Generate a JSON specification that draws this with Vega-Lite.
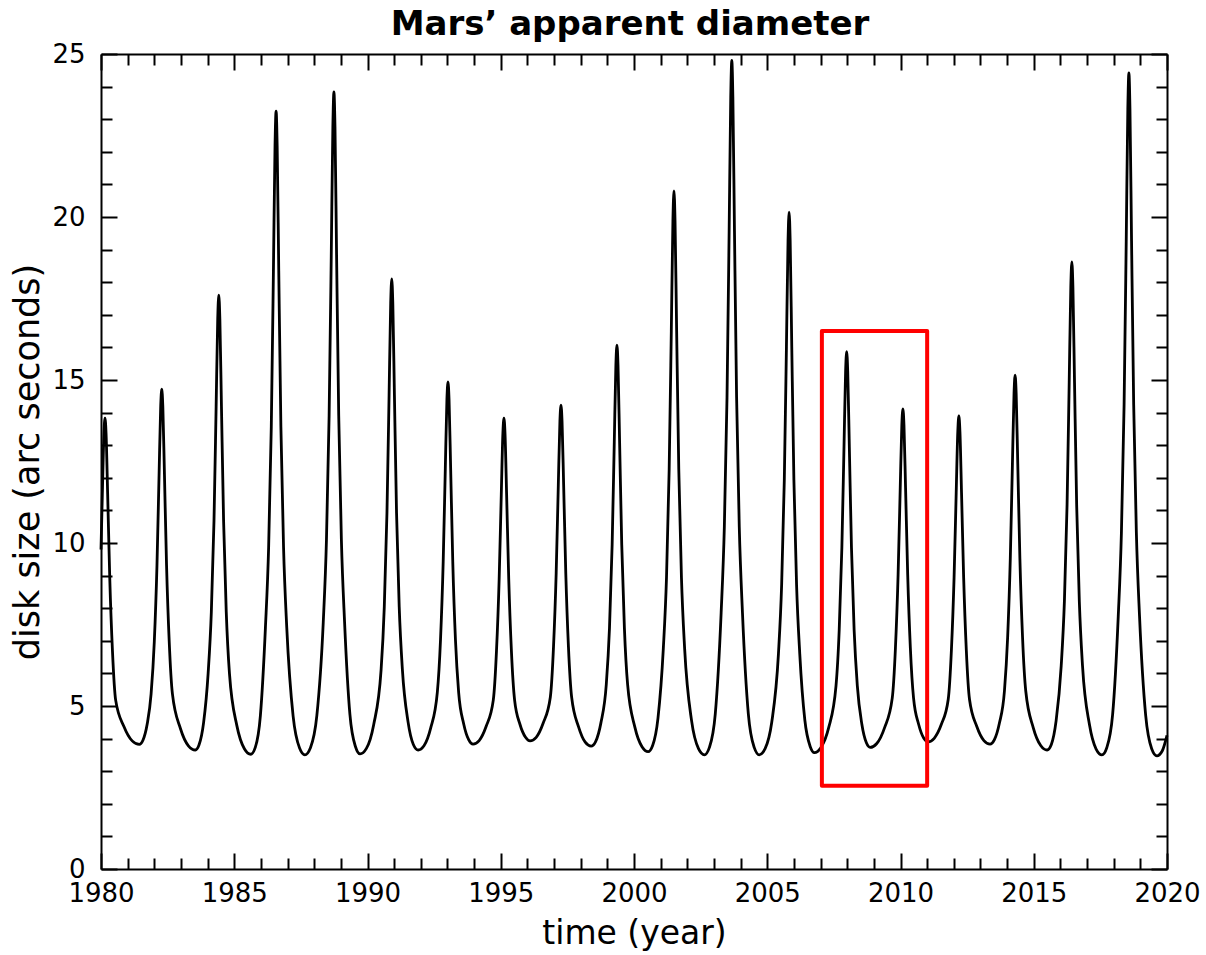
{
  "$schema": "https://vega.github.io/schema/vega-lite/v6.json",
  "width": 1066,
  "height": 815,
  "autosize": "none",
  "padding": {"left": 101, "top": 54, "right": 39, "bottom": 86},
  "background": "white",
  "title": {"text": "Mars’ apparent diameter", "font": "DejaVu Sans", "fontSize": 34, "fontWeight": "bold", "color": "black", "anchor": "middle", "frame": "group", "offset": -1, "dx": -4},
  "config": {
    "view": {"stroke": null},
    "axis": {"domainColor": "black", "domainWidth": 2, "tickColor": "black", "tickWidth": 2, "grid": false, "labelFont": "DejaVu Sans", "labelFontSize": 26, "labelColor": "black", "titleFont": "DejaVu Sans", "titleColor": "black", "titleFontWeight": "normal", "labelFlush": false, "labelOverlap": false}
  },
  "datasets": {
    "mars": [
      {"t":1980.0,"d":9.8},{"t":1980.05,"d":11.49},{"t":1980.11,"d":13.36},{"t":1980.15,"d":13.83},{"t":1980.19,"d":13.36},{"t":1980.25,"d":11.49},{"t":1980.33,"d":8.89},{"t":1980.43,"d":6.69},{"t":1980.55,"d":5.18},
      {"t":1980.86,"d":4.37},{"t":1981.17,"d":3.93},{"t":1981.44,"d":3.82},{"t":1981.57,"d":3.94},{"t":1981.73,"d":4.43},
      {"t":1981.88,"d":5.37},{"t":1982.0,"d":6.97},{"t":1982.1,"d":9.31},{"t":1982.18,"d":12.13},{"t":1982.24,"d":14.19},{"t":1982.28,"d":14.72},{"t":1982.32,"d":14.19},{"t":1982.38,"d":12.13},{"t":1982.46,"d":9.31},{"t":1982.56,"d":6.97},{"t":1982.68,"d":5.37},
      {"t":1982.98,"d":4.31},{"t":1983.28,"d":3.78},{"t":1983.54,"d":3.65},{"t":1983.68,"d":3.81},{"t":1983.85,"d":4.49},
      {"t":1984.02,"d":6.0},{"t":1984.14,"d":7.88},{"t":1984.24,"d":10.68},{"t":1984.32,"d":14.18},{"t":1984.38,"d":16.88},{"t":1984.42,"d":17.6},{"t":1984.46,"d":16.88},{"t":1984.52,"d":14.18},{"t":1984.6,"d":10.68},{"t":1984.7,"d":7.88},{"t":1984.82,"d":6.0},
      {"t":1985.1,"d":4.39},{"t":1985.38,"d":3.69},{"t":1985.62,"d":3.52},{"t":1985.79,"d":3.73},{"t":1985.98,"d":4.7},
      {"t":1986.17,"d":7.41},{"t":1986.29,"d":9.86},{"t":1986.39,"d":13.57},{"t":1986.47,"d":18.35},{"t":1986.53,"d":22.19},{"t":1986.57,"d":23.25},{"t":1986.61,"d":22.19},{"t":1986.67,"d":18.35},{"t":1986.75,"d":13.57},{"t":1986.85,"d":9.86},{"t":1986.97,"d":7.41},
      {"t":1987.21,"d":4.68},{"t":1987.45,"d":3.71},{"t":1987.65,"d":3.5},{"t":1987.86,"d":3.72},{"t":1988.1,"d":4.71},
      {"t":1988.34,"d":7.57},{"t":1988.46,"d":10.1},{"t":1988.56,"d":13.91},{"t":1988.64,"d":18.81},{"t":1988.7,"d":22.76},{"t":1988.74,"d":23.84},{"t":1988.78,"d":22.76},{"t":1988.84,"d":18.81},{"t":1988.92,"d":13.91},{"t":1989.02,"d":10.1},{"t":1989.14,"d":7.57},
      {"t":1989.34,"d":4.74},{"t":1989.55,"d":3.75},{"t":1989.72,"d":3.53},{"t":1989.96,"d":3.7},{"t":1990.23,"d":4.42},
      {"t":1990.51,"d":6.11},{"t":1990.63,"d":8.04},{"t":1990.73,"d":10.92},{"t":1990.81,"d":14.54},{"t":1990.87,"d":17.35},{"t":1990.91,"d":18.1},{"t":1990.95,"d":17.35},{"t":1991.01,"d":14.54},{"t":1991.09,"d":10.92},{"t":1991.19,"d":8.04},{"t":1991.31,"d":6.11},
      {"t":1991.52,"d":4.52},{"t":1991.72,"d":3.82},{"t":1991.9,"d":3.65},{"t":1992.12,"d":3.78},{"t":1992.37,"d":4.32},
      {"t":1992.62,"d":5.42},{"t":1992.74,"d":7.04},{"t":1992.84,"d":9.42},{"t":1992.92,"d":12.29},{"t":1992.98,"d":14.4},{"t":1993.02,"d":14.94},{"t":1993.06,"d":14.4},{"t":1993.12,"d":12.29},{"t":1993.2,"d":9.42},{"t":1993.3,"d":7.04},{"t":1993.42,"d":5.42},
      {"t":1993.61,"d":4.45},{"t":1993.8,"d":3.96},{"t":1993.96,"d":3.83},{"t":1994.19,"d":3.94},{"t":1994.45,"d":4.37},
      {"t":1994.72,"d":5.18},{"t":1994.84,"d":6.69},{"t":1994.94,"d":8.89},{"t":1995.02,"d":11.49},{"t":1995.08,"d":13.36},{"t":1995.12,"d":13.83},{"t":1995.16,"d":13.36},{"t":1995.22,"d":11.49},{"t":1995.3,"d":8.89},{"t":1995.4,"d":6.69},{"t":1995.52,"d":5.18},
      {"t":1995.72,"d":4.44},{"t":1995.93,"d":4.04},{"t":1996.1,"d":3.93},{"t":1996.33,"d":4.04},{"t":1996.59,"d":4.47},
      {"t":1996.86,"d":5.27},{"t":1996.98,"d":6.82},{"t":1997.08,"d":9.08},{"t":1997.16,"d":11.78},{"t":1997.22,"d":13.73},{"t":1997.26,"d":14.23},{"t":1997.3,"d":13.73},{"t":1997.36,"d":11.78},{"t":1997.44,"d":9.08},{"t":1997.54,"d":6.82},{"t":1997.66,"d":5.27},
      {"t":1997.92,"d":4.36},{"t":1998.17,"d":3.89},{"t":1998.39,"d":3.77},{"t":1998.56,"d":3.91},{"t":1998.76,"d":4.49},
      {"t":1998.96,"d":5.66},{"t":1999.08,"d":7.39},{"t":1999.18,"d":9.95},{"t":1999.26,"d":13.09},{"t":1999.32,"d":15.45},{"t":1999.36,"d":16.07},{"t":1999.4,"d":15.45},{"t":1999.46,"d":13.09},{"t":1999.54,"d":9.95},{"t":1999.64,"d":7.39},{"t":1999.76,"d":5.66},
      {"t":2000.03,"d":4.36},{"t":2000.3,"d":3.75},{"t":2000.53,"d":3.6},{"t":2000.7,"d":3.79},{"t":2000.9,"d":4.63},
      {"t":2001.1,"d":6.76},{"t":2001.22,"d":8.95},{"t":2001.32,"d":12.27},{"t":2001.4,"d":16.5},{"t":2001.46,"d":19.88},{"t":2001.5,"d":20.8},{"t":2001.54,"d":19.88},{"t":2001.6,"d":16.5},{"t":2001.68,"d":12.27},{"t":2001.78,"d":8.95},{"t":2001.9,"d":6.76},
      {"t":2002.16,"d":4.55},{"t":2002.42,"d":3.69},{"t":2002.64,"d":3.5},{"t":2002.83,"d":3.73},{"t":2003.05,"d":4.76},
      {"t":2003.27,"d":7.86},{"t":2003.39,"d":10.5},{"t":2003.49,"d":14.46},{"t":2003.57,"d":19.57},{"t":2003.63,"d":23.68},{"t":2003.67,"d":24.8},{"t":2003.71,"d":23.68},{"t":2003.77,"d":19.57},{"t":2003.85,"d":14.46},{"t":2003.95,"d":10.5},{"t":2004.07,"d":7.86},
      {"t":2004.29,"d":4.76},{"t":2004.51,"d":3.73},{"t":2004.7,"d":3.5},{"t":2004.92,"d":3.69},{"t":2005.17,"d":4.51},
      {"t":2005.42,"d":6.6},{"t":2005.54,"d":8.72},{"t":2005.64,"d":11.93},{"t":2005.72,"d":16.02},{"t":2005.78,"d":19.27},{"t":2005.82,"d":20.15},{"t":2005.86,"d":19.27},{"t":2005.92,"d":16.02},{"t":2006.0,"d":11.93},{"t":2006.1,"d":8.72},{"t":2006.22,"d":6.6},
      {"t":2006.41,"d":4.57},{"t":2006.61,"d":3.76},{"t":2006.77,"d":3.57},{"t":2007.01,"d":3.72},{"t":2007.3,"d":4.32},
      {"t":2007.58,"d":5.62},{"t":2007.7,"d":7.33},{"t":2007.8,"d":9.86},{"t":2007.88,"d":12.95},{"t":2007.94,"d":15.26},{"t":2007.98,"d":15.87},{"t":2008.02,"d":15.26},{"t":2008.08,"d":12.95},{"t":2008.16,"d":9.86},{"t":2008.26,"d":7.33},{"t":2008.38,"d":5.62},
      {"t":2008.55,"d":4.44},{"t":2008.72,"d":3.87},{"t":2008.86,"d":3.73},{"t":2009.11,"d":3.85},{"t":2009.4,"d":4.33},
      {"t":2009.69,"d":5.24},{"t":2009.81,"d":6.78},{"t":2009.91,"d":9.03},{"t":2009.99,"d":11.69},{"t":2010.05,"d":13.62},{"t":2010.09,"d":14.11},{"t":2010.13,"d":13.62},{"t":2010.19,"d":11.69},{"t":2010.27,"d":9.03},{"t":2010.37,"d":6.78},{"t":2010.49,"d":5.24},
      {"t":2010.68,"d":4.44},{"t":2010.875,"d":4.01},{"t":2011.04,"d":3.9},{"t":2011.265,"d":4.01},{"t":2011.53,"d":4.43},
      {"t":2011.79,"d":5.2},{"t":2011.91,"d":6.71},{"t":2012.01,"d":8.93},{"t":2012.09,"d":11.54},{"t":2012.15,"d":13.42},{"t":2012.19,"d":13.9},{"t":2012.23,"d":13.42},{"t":2012.29,"d":11.54},{"t":2012.37,"d":8.93},{"t":2012.47,"d":6.71},{"t":2012.59,"d":5.2},
      {"t":2012.86,"d":4.38},{"t":2013.13,"d":3.94},{"t":2013.36,"d":3.83},{"t":2013.52,"d":3.96},{"t":2013.71,"d":4.47},
      {"t":2013.9,"d":5.46},{"t":2014.02,"d":7.1},{"t":2014.12,"d":9.52},{"t":2014.2,"d":12.44},{"t":2014.26,"d":14.59},{"t":2014.3,"d":15.15},{"t":2014.34,"d":14.59},{"t":2014.4,"d":12.44},{"t":2014.48,"d":9.52},{"t":2014.58,"d":7.1},{"t":2014.7,"d":5.46},
      {"t":2014.98,"d":4.34},{"t":2015.26,"d":3.79},{"t":2015.5,"d":3.65},{"t":2015.66,"d":3.82},{"t":2015.84,"d":4.55},
      {"t":2016.03,"d":6.23},{"t":2016.15,"d":8.21},{"t":2016.25,"d":11.17},{"t":2016.33,"d":14.92},{"t":2016.39,"d":17.84},{"t":2016.43,"d":18.62},{"t":2016.47,"d":17.84},{"t":2016.53,"d":14.92},{"t":2016.61,"d":11.17},{"t":2016.71,"d":8.21},{"t":2016.83,"d":6.23},
      {"t":2017.09,"d":4.43},{"t":2017.34,"d":3.68},{"t":2017.56,"d":3.5},{"t":2017.74,"d":3.72},{"t":2017.96,"d":4.74},
      {"t":2018.17,"d":7.74},{"t":2018.29,"d":10.33},{"t":2018.39,"d":14.24},{"t":2018.47,"d":19.26},{"t":2018.53,"d":23.31},{"t":2018.57,"d":24.42},{"t":2018.61,"d":23.31},{"t":2018.67,"d":19.26},{"t":2018.75,"d":14.24},{"t":2018.85,"d":10.33},{"t":2018.97,"d":7.74},
      {"t":2019.2,"d":4.71},{"t":2019.425,"d":3.69},{"t":2019.62,"d":3.47},{"t":2019.82,"d":3.62},{"t":2020.0,"d":4.1}
    ],
    "box": [{"x1": 2007.05, "x2": 2011.0, "y1": 2.55, "y2": 16.5}],
    "anchor": [{"t": 1980, "d": 0}]
  },
  "resolve": {"axis": {"x": "independent", "y": "independent"}},
  "layer": [
    {
      "data": {"name": "mars"},
      "mark": {"type": "line", "interpolate": "monotone", "color": "black", "strokeWidth": 2.8, "strokeJoin": "round"},
      "encoding": {
        "x": {"field": "t", "type": "quantitative", "scale": {"domain": [1980, 2020], "nice": false, "zero": false},
              "axis": {"orient": "bottom", "values": [1980,1985,1990,1995,2000,2005,2010,2015,2020], "format": "d", "ticks": false, "domain": true, "labelPadding": 11,
                       "title": "time (year)", "titleFontSize": 33, "titleBaseline": "alphabetic", "titleY": 74}},
        "y": {"field": "d", "type": "quantitative", "scale": {"domain": [0, 25], "nice": false},
              "axis": {"orient": "left", "values": [0,5,10,15,20,25], "format": "d", "ticks": false, "domain": true, "labelPadding": 16,
                       "title": "disk size (arc seconds)", "titleFontSize": 35, "titleBaseline": "alphabetic", "titleX": -63}}
      }
    },
    {
      "data": {"name": "box"},
      "mark": {"type": "rect", "fillOpacity": 0, "stroke": "#ff0000", "strokeWidth": 4, "strokeJoin": "round"},
      "encoding": {
        "x": {"field": "x1", "type": "quantitative", "scale": {"domain": [1980, 2020], "nice": false, "zero": false},
              "axis": {"orient": "top", "values": [1980,1985,1990,1995,2000,2005,2010,2015,2020], "labels": false, "tickSize": -16, "domain": true, "title": null}},
        "x2": {"field": "x2"},
        "y": {"field": "y1", "type": "quantitative", "scale": {"domain": [0, 25], "nice": false},
              "axis": {"orient": "right", "values": [0,5,10,15,20,25], "labels": false, "tickSize": -16, "domain": true, "title": null}},
        "y2": {"field": "y2"}
      }
    },
    {
      "data": {"name": "anchor"},
      "mark": {"type": "point", "opacity": 0},
      "encoding": {
        "x": {"field": "t", "type": "quantitative", "scale": {"domain": [1980, 2020], "nice": false, "zero": false},
              "axis": {"orient": "bottom", "values": [1980,1985,1990,1995,2000,2005,2010,2015,2020], "labels": false, "tickSize": -16, "domain": false, "title": null}},
        "y": {"field": "d", "type": "quantitative", "scale": {"domain": [0, 25], "nice": false},
              "axis": {"orient": "left", "values": [0,5,10,15,20,25], "labels": false, "tickSize": -16, "domain": false, "title": null}}
      }
    },
    {
      "data": {"name": "anchor"},
      "mark": {"type": "point", "opacity": 0},
      "encoding": {
        "x": {"field": "t", "type": "quantitative", "scale": {"domain": [1980, 2020], "nice": false, "zero": false},
              "axis": {"orient": "bottom", "values": [1981,1982,1983,1984,1986,1987,1988,1989,1991,1992,1993,1994,1996,1997,1998,1999,2001,2002,2003,2004,2006,2007,2008,2009,2011,2012,2013,2014,2016,2017,2018,2019], "labels": false, "tickSize": -11, "domain": false, "title": null}},
        "y": {"field": "d", "type": "quantitative", "scale": {"domain": [0, 25], "nice": false},
              "axis": {"orient": "left", "values": [1,2,3,4,6,7,8,9,11,12,13,14,16,17,18,19,21,22,23,24], "labels": false, "tickSize": -11, "domain": false, "title": null}}
      }
    },
    {
      "data": {"name": "anchor"},
      "mark": {"type": "point", "opacity": 0},
      "encoding": {
        "x": {"field": "t", "type": "quantitative", "scale": {"domain": [1980, 2020], "nice": false, "zero": false},
              "axis": {"orient": "top", "values": [1981,1982,1983,1984,1986,1987,1988,1989,1991,1992,1993,1994,1996,1997,1998,1999,2001,2002,2003,2004,2006,2007,2008,2009,2011,2012,2013,2014,2016,2017,2018,2019], "labels": false, "tickSize": -11, "domain": false, "title": null}},
        "y": {"field": "d", "type": "quantitative", "scale": {"domain": [0, 25], "nice": false},
              "axis": {"orient": "right", "values": [1,2,3,4,6,7,8,9,11,12,13,14,16,17,18,19,21,22,23,24], "labels": false, "tickSize": -11, "domain": false, "title": null}}
      }
    }
  ]
}
